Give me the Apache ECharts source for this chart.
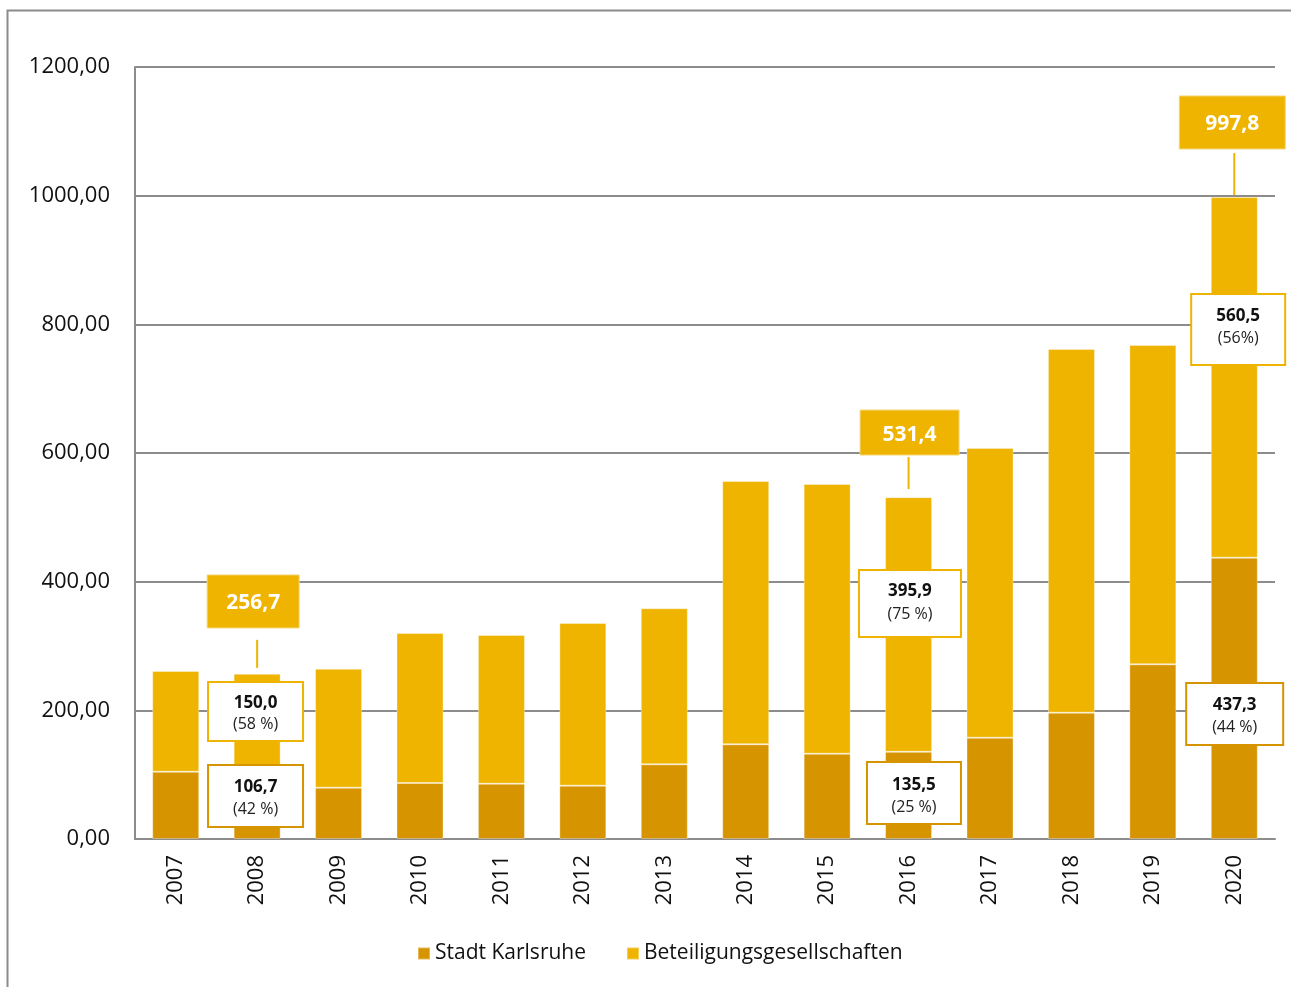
<!DOCTYPE html>
<html>
<head>
<meta charset="utf-8">
<script src="https://cdn.jsdelivr.net/npm/echarts@6/dist/echarts.min.js"></script>
<style>
html,body{margin:0;padding:0;background:#fff;}
#chart{width:1291px;height:987px;}
</style>
</head>
<body>
<div id="chart"></div>
<script>
// ---- data ----
const categories = ['2007','2008','2009','2010','2011','2012','2013','2014','2015','2016','2017','2018','2019','2020'];
const stadtKarlsruhe = [104.6, 106.7, 79.8, 87.0, 86.0, 82.9, 116.1, 147.2, 132.6, 135.5, 157.5, 196.3, 271.5, 437.3];
const beteiligungsgesellschaften = [156.5, 150.0, 184.9, 233.2, 231.1, 252.9, 242.5, 409.3, 419.2, 395.9, 450.3, 565.4, 496.4, 560.5];
const seriesNames = ['Stadt Karlsruhe', 'Beteiligungsgesellschaften'];
const annotatedYears = ['2008', '2016', '2020'];
const totalLabels = ['256,7', '531,4', '997,8'];
const betValueLabels = ['150,0', '395,9', '560,5'];
const betPercentLabels = ['(58 %)', '(75 %)', '(56%)'];
const stadtValueLabels = ['106,7', '135,5', '437,3'];
const stadtPercentLabels = ['(42 %)', '(25 %)', '(44 %)'];

// ---- layout (pixel offsets of annotation boxes relative to their anchor) ----
const totalBoxLayout = [
  {dx: -4, dy: -72.4, w: 92, h: 53, l1: -34, l2: -6},
  {dx: 1,  dy: -64.6, w: 99, h: 45, l1: -40, l2: -8},
  {dx: -2, dy: -74.6, w: 106, h: 53, l1: -44, l2: -2}
];
const betBoxLayout = [
  {dx: -1.6, dy: 37.6, w: 95, h: 59, t1: -8, t2: 13},
  {dx: 1.4, dy: 106.4, w: 102, h: 67, t1: -12, t2: 11},
  {dx: 3.9, dy: 132.4, w: 94, h: 71, t1: -13, t2: 9}
];
const stadtBoxLayout = [
  {dx: -1.6, dy: 25.6, w: 95, h: 62, t1: -9, t2: 13},
  {dx: 5.4, dy: 41.2, w: 94, h: 62, t1: -8, t2: 14},
  {dx: 0.4, dy: 156.3, w: 97, h: 62, t1: -9, t2: 13}
];

const DARK = '#D69400';
const LIGHT = '#EEB400';
const GRID = '#8c8c8c';
const FONT = "'Open Sans', sans-serif";

const totals = categories.map((c, i) => +(stadtKarlsruhe[i] + beteiligungsgesellschaften[i]).toFixed(1));
const annIdx = annotatedYears.map(y => categories.indexOf(y));

function boxTexts(cx, cy, lay, v, p) {
  return [
    {type: 'text', style: {text: v, x: cx, y: cy + lay.t1, fill: '#111', font: 'bold 17px ' + FONT, align: 'center', verticalAlign: 'middle'}},
    {type: 'text', style: {text: p, x: cx, y: cy + lay.t2, fill: '#222', font: '16px ' + FONT, align: 'center', verticalAlign: 'middle'}}
  ];
}

const chart = echarts.init(document.getElementById('chart'));
chart.setOption({
  animation: false,
  textStyle: {fontFamily: FONT},
  graphic: [{
    type: 'rect', silent: true, z: -10,
    shape: {x: 7.5, y: 10.5, width: 1320, height: 1020},
    style: {fill: 'none', stroke: GRID, lineWidth: 2}
  }],
  legend: {
    data: seriesNames,
    bottom: 18,
    left: 412,
    itemWidth: 12, itemHeight: 12, itemGap: 40,
    icon: 'rect',
    textStyle: {fontSize: 21, color: '#111', fontFamily: FONT}
  },
  grid: {left: 135, right: 16, top: 67, bottom: 148, containLabel: false},
  xAxis: {
    type: 'category', data: categories,
    axisLine: {lineStyle: {color: GRID, width: 2}},
    axisTick: {show: false},
    axisLabel: {rotate: 90, fontSize: 22, color: '#111', margin: 16, fontFamily: FONT}
  },
  yAxis: {
    type: 'value', min: 0, max: 1200, interval: 200,
    axisLine: {show: true, lineStyle: {color: GRID, width: 2}},
    axisTick: {show: false},
    splitLine: {lineStyle: {color: GRID, width: 2}},
    axisLabel: {fontSize: 22, color: '#111', margin: 25, fontFamily: FONT,
      formatter: v => v.toFixed(2).replace('.', ',')}
  },
  series: [
    {name: seriesNames[0], type: 'bar', stack: 'total', data: stadtKarlsruhe, barWidth: 47,
      itemStyle: {color: DARK, borderColor: 'rgba(255,255,255,0.35)', borderWidth: 1}},
    {name: seriesNames[1], type: 'bar', stack: 'total', data: beteiligungsgesellschaften, barWidth: 47,
      itemStyle: {color: LIGHT, borderColor: 'rgba(255,255,255,0.35)', borderWidth: 1}},
    {
      type: 'custom', name: 'totalsAnno', z: 10, silent: true,
      data: annIdx.map(i => [i, totals[i]]),
      renderItem: function (params, api) {
        const k = params.dataIndex;
        const p = api.coord([api.value(0), api.value(1)]);
        const L = totalBoxLayout[k];
        const cx = p[0] + L.dx, cy = p[1] + L.dy;
        return {type: 'group', children: [
          {type: 'rect', shape: {x: cx - L.w / 2, y: cy - L.h / 2, width: L.w, height: L.h}, style: {fill: LIGHT, stroke: '#f5d77a', lineWidth: 1}},
          {type: 'text', style: {text: totalLabels[k], x: cx, y: cy + 2, fill: '#fff', font: 'bold 21px ' + FONT, align: 'center', verticalAlign: 'middle'}},
          {type: 'line', shape: {x1: p[0], y1: p[1] + L.l1, x2: p[0], y2: p[1] + L.l2}, style: {stroke: LIGHT, lineWidth: 2}}
        ]};
      }
    },
    {
      type: 'custom', name: 'betAnno', z: 10, silent: true,
      data: annIdx.map(i => [i, totals[i]]),
      renderItem: function (params, api) {
        const k = params.dataIndex;
        const p = api.coord([api.value(0), api.value(1)]);
        const L = betBoxLayout[k];
        const cx = p[0] + L.dx, cy = p[1] + L.dy;
        return {type: 'group', children: [
          {type: 'rect', shape: {x: cx - L.w / 2, y: cy - L.h / 2, width: L.w, height: L.h}, style: {fill: '#fff', stroke: LIGHT, lineWidth: 2}}
        ].concat(boxTexts(cx, cy, L, betValueLabels[k], betPercentLabels[k]))};
      }
    },
    {
      type: 'custom', name: 'stadtAnno', z: 10, silent: true,
      data: annIdx.map(i => [i, stadtKarlsruhe[i]]),
      renderItem: function (params, api) {
        const k = params.dataIndex;
        const p = api.coord([api.value(0), api.value(1)]);
        const L = stadtBoxLayout[k];
        const cx = p[0] + L.dx, cy = p[1] + L.dy;
        return {type: 'group', children: [
          {type: 'rect', shape: {x: cx - L.w / 2, y: cy - L.h / 2, width: L.w, height: L.h}, style: {fill: '#fff', stroke: DARK, lineWidth: 2}}
        ].concat(boxTexts(cx, cy, L, stadtValueLabels[k], stadtPercentLabels[k]))};
      }
    }
  ]
});
</script>
</body>
</html>
